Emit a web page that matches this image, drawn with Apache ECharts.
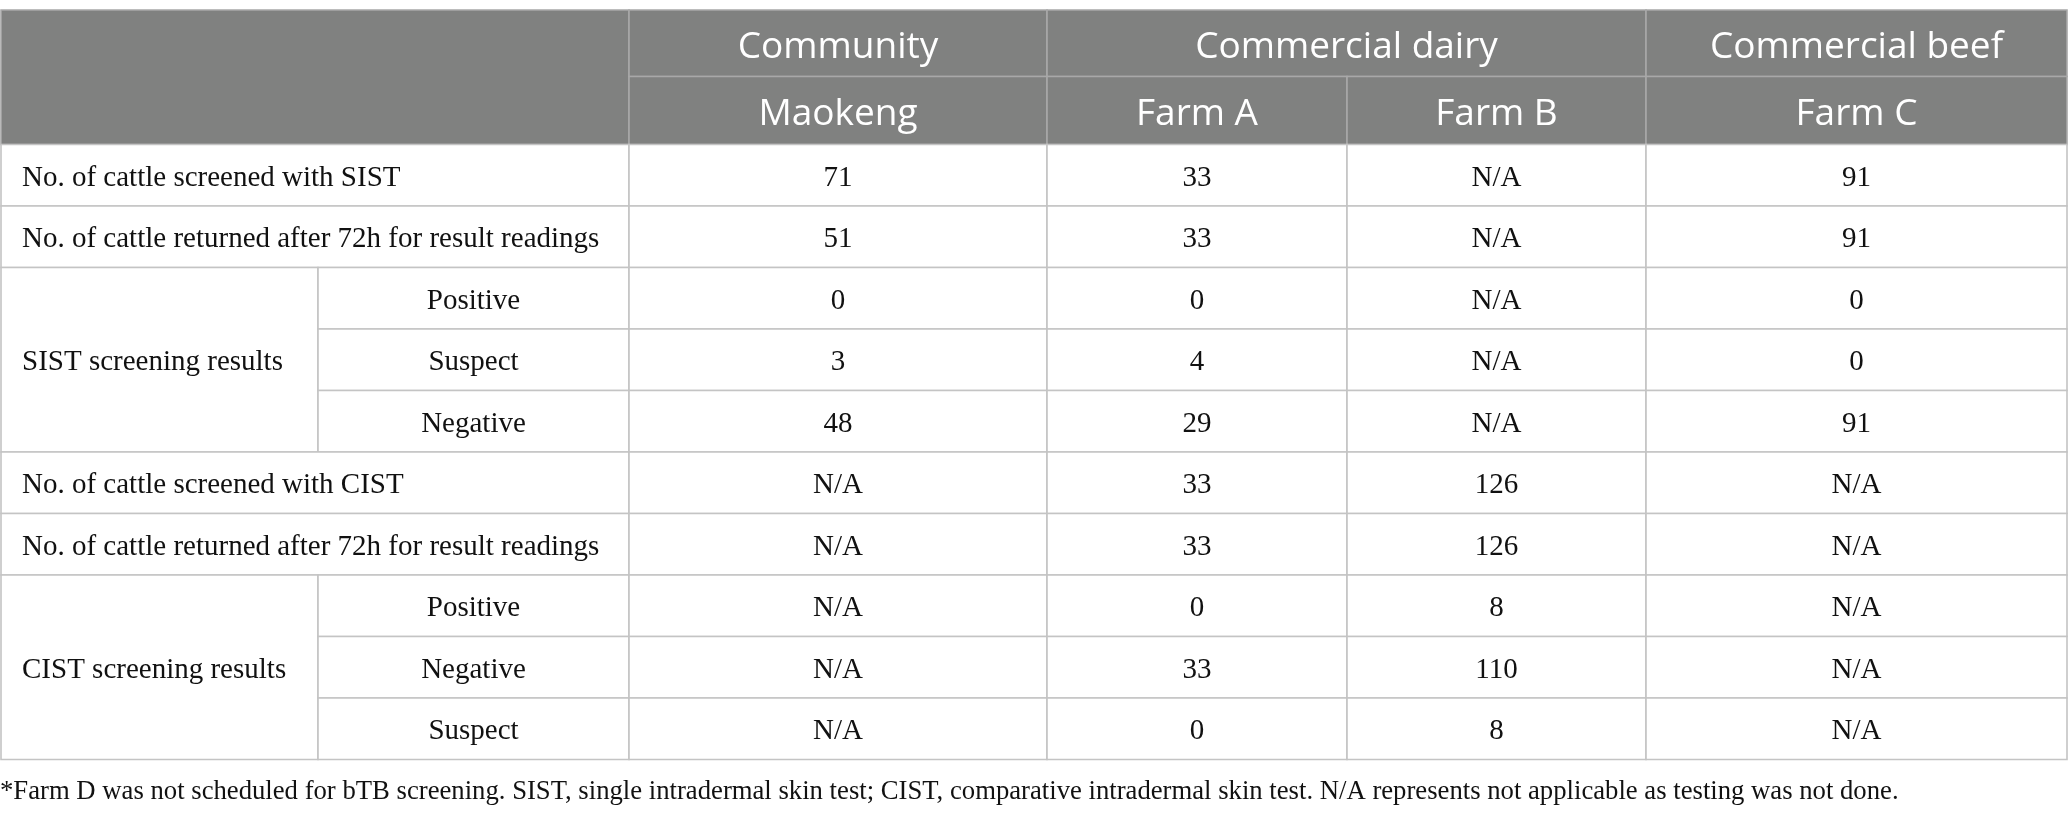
<!DOCTYPE html>
<html>
<head>
<meta charset="utf-8">
<script src="https://cdn.jsdelivr.net/npm/echarts@6/dist/echarts.min.js"></script>
<style>
  html, body { margin: 0; padding: 0; background: #fff; }
  #main { width: 2068px; height: 818px; }
</style>
</head>
<body>
<div id="main"></div>
<script>
'use strict';

// table content
var groups = ['Community', 'Commercial dairy', 'Commercial beef'];
var groupSpans = [1, 2, 1];
var farms = ['Maokeng', 'Farm A', 'Farm B', 'Farm C'];

var rowLabels = [
    'No. of cattle screened with SIST',
    'No. of cattle returned after 72h for result readings',
    'SIST screening results',
    'No. of cattle screened with CIST',
    'No. of cattle returned after 72h for result readings',
    'CIST screening results'
];
var subLabels = [
    [],
    [],
    ['Positive', 'Suspect', 'Negative'],
    [],
    [],
    ['Positive', 'Negative', 'Suspect']
];

// null = N/A (testing not done)
var maokeng = [71, 51, 0, 3, 48, null, null, null, null, null];
var farmA = [33, 33, 0, 4, 29, 33, 33, 0, 33, 0];
var farmB = [null, null, null, null, null, 126, 126, 8, 110, 8];
var farmC = [91, 91, 0, 0, 91, null, null, null, null, null];
var farmValues = [maokeng, farmA, farmB, farmC];

var footnote = '*Farm D was not scheduled for bTB screening. SIST, single intradermal skin test; CIST, comparative intradermal skin test. N/A represents not applicable as testing was not done.';

// layout (axis units)
var colWidths = [317, 311, 418, 300, 299, 421];
var headRowHeights = [66.5, 68];
var bodyRowHeight = 61.5;

function edges(sizes) {
    var out = [0];
    sizes.forEach(function (s) { out.push(out[out.length - 1] + s); });
    return out;
}
var bodyRows = farmValues[0].length;
var rowSizes = headRowHeights.slice();
for (var i = 0; i < bodyRows; i++) rowSizes.push(bodyRowHeight);
var colEdge = edges(colWidths);
var rowEdge = edges(rowSizes);

// cells: [x0, x1, y0, y1, text, kind]
var cells = [];
function addCell(c0, c1, r0, r1, text, kind) {
    cells.push([colEdge[c0], colEdge[c1], rowEdge[r0], rowEdge[r1], text, kind]);
}

addCell(0, 2, 0, 2, '', 'head');
var c = 2;
groups.forEach(function (g, gi) {
    addCell(c, c + groupSpans[gi], 0, 1, g, 'head');
    c += groupSpans[gi];
});
farms.forEach(function (f, fi) {
    addCell(2 + fi, 3 + fi, 1, 2, f, 'head');
});

var r = 2;
rowLabels.forEach(function (lab, li) {
    var subs = subLabels[li];
    if (subs.length) {
        addCell(0, 1, r, r + subs.length, lab, 'label');
        subs.forEach(function (s, si) {
            addCell(1, 2, r + si, r + si + 1, s, 'sub');
        });
        r += subs.length;
    } else {
        addCell(0, 2, r, r + 1, lab, 'label');
        r += 1;
    }
});
farmValues.forEach(function (vals, fi) {
    vals.forEach(function (v, vi) {
        addCell(2 + fi, 3 + fi, 2 + vi, 3 + vi, v === null ? 'N/A' : String(v), 'value');
    });
});

var chart = echarts.init(document.getElementById('main'));

function renderCell(params, api) {
    var p0 = api.coord([api.value(0), api.value(2)]);
    var p1 = api.coord([api.value(1), api.value(3)]);
    var kind = cells[params.dataIndex][5];
    var text = cells[params.dataIndex][4];
    var head = kind === 'head';
    var x = p0[0], y = p0[1], w = p1[0] - p0[0], h = p1[1] - p0[1];
    var children = [{
        type: 'rect',
        shape: {x: x, y: y, width: w, height: h},
        style: {
            fill: head ? '#808180' : '#ffffff',
            stroke: head ? '#a8a8a8' : '#c4c4c4',
            lineWidth: 1.6
        }
    }];
    if (text) {
        var left = kind === 'label';
        children.push({
            type: 'text',
            style: {
                text: text,
                x: left ? x + 21 : x + w / 2,
                y: y + h / 2 + (head ? 4 : 3),
                align: left ? 'left' : 'center',
                verticalAlign: 'middle',
                fill: head ? '#ffffff' : '#111111',
                fontSize: head ? 37 : 29,
                fontFamily: head ? 'Open Sans' : 'Liberation Serif'
            }
        });
    }
    return {type: 'group', children: children};
}

chart.setOption({
    animation: false,
    backgroundColor: '#ffffff',
    title: {
        text: footnote,
        left: 0,
        top: 778,
        padding: 0,
        textStyle: {
            fontFamily: 'Liberation Serif',
            fontSize: 26.7,
            fontWeight: 'normal',
            color: '#111111'
        }
    },
    grid: {left: 1, top: 10, width: colEdge[colEdge.length - 1], height: rowEdge[rowEdge.length - 1]},
    xAxis: {
        type: 'value',
        min: 0,
        max: colEdge[colEdge.length - 1],
        show: false
    },
    yAxis: {
        type: 'value',
        inverse: true,
        min: 0,
        max: rowEdge[rowEdge.length - 1],
        show: false
    },
    series: [{
        type: 'custom',
        renderItem: renderCell,
        clip: false,
        encode: {x: [0, 1], y: [2, 3]},
        data: cells
    }]
});
</script>
</body>
</html>
